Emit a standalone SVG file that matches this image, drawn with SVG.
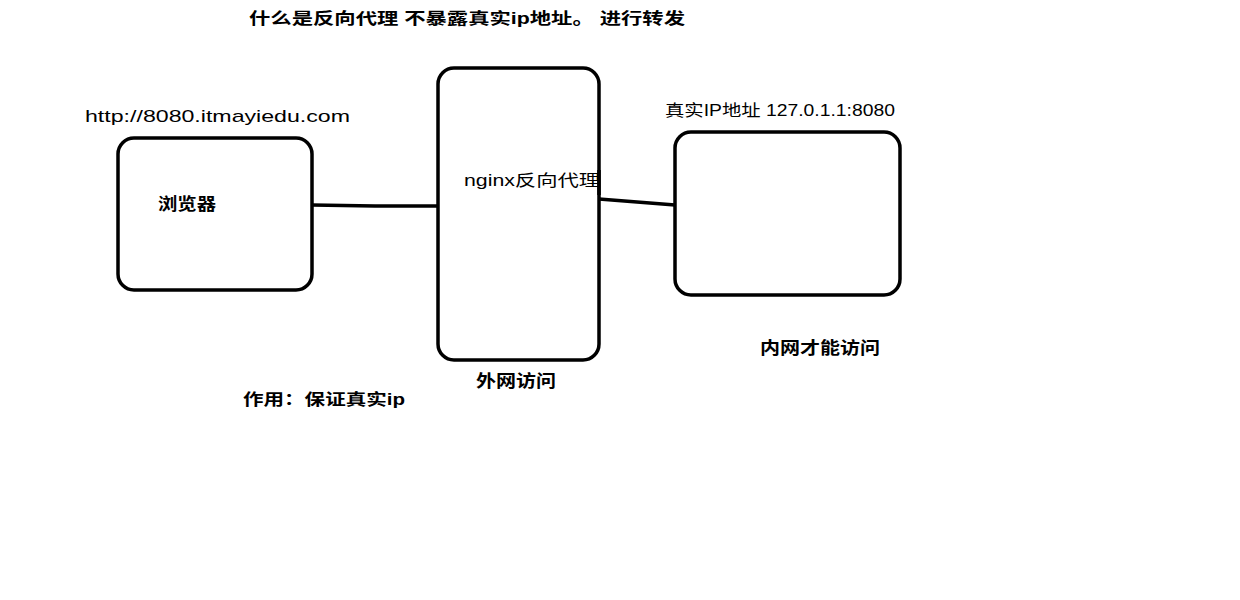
<svg xmlns="http://www.w3.org/2000/svg" width="1240" height="600" viewBox="0 0 1240 600">
<style>
.box{fill:#fff;stroke:#000;stroke-width:3.5}
.ln{fill:none;stroke:#000;stroke-width:3.5}
.t{font-family:"Liberation Sans","Noto Sans CJK SC",sans-serif;fill:#000}
.cj{font-weight:bold}
</style>
<rect width="1240" height="600" fill="#fff"/>
<text class="t cj" x="249" y="24" font-size="16" textLength="436" lengthAdjust="spacingAndGlyphs">什么是反向代理 不暴露真实ip地址。 进行转发</text>
<text class="t" x="85" y="122" font-size="17" textLength="265" lengthAdjust="spacingAndGlyphs">http://8080.itmayiedu.com</text>
<g id="connectors">
<polyline class="ln" points="312,205 375,206 438,206"/>
<line class="ln" x1="599" y1="199" x2="675" y2="205"/>
</g>
<g id="browser">
<rect class="box" x="118" y="138" width="194" height="152" rx="16"/>
<text class="t cj" x="158" y="210" font-size="17" textLength="58" lengthAdjust="spacingAndGlyphs">浏览器</text>
</g>
<g id="nginx">
<rect class="box" x="438" y="68" width="161" height="292" rx="16"/>
<text class="t" x="464" y="186" font-size="16" textLength="136" lengthAdjust="spacingAndGlyphs">nginx反向代理</text>
<line class="ln" x1="599" y1="170" x2="599" y2="195"/>
</g>
<g id="server">
<rect class="box" x="675" y="132" width="225" height="163" rx="16"/>
</g>
<text class="t" x="665" y="116" font-size="16" textLength="230" lengthAdjust="spacingAndGlyphs">真实IP地址 127.0.1.1:8080</text>
<text class="t cj" x="476" y="387" font-size="17" textLength="80" lengthAdjust="spacingAndGlyphs">外网访问</text>
<text class="t cj" x="760" y="354" font-size="17" textLength="120" lengthAdjust="spacingAndGlyphs">内网才能访问</text>
<text class="t cj" x="243" y="405" font-size="16" textLength="162" lengthAdjust="spacingAndGlyphs">作用：保证真实ip</text>
</svg>
